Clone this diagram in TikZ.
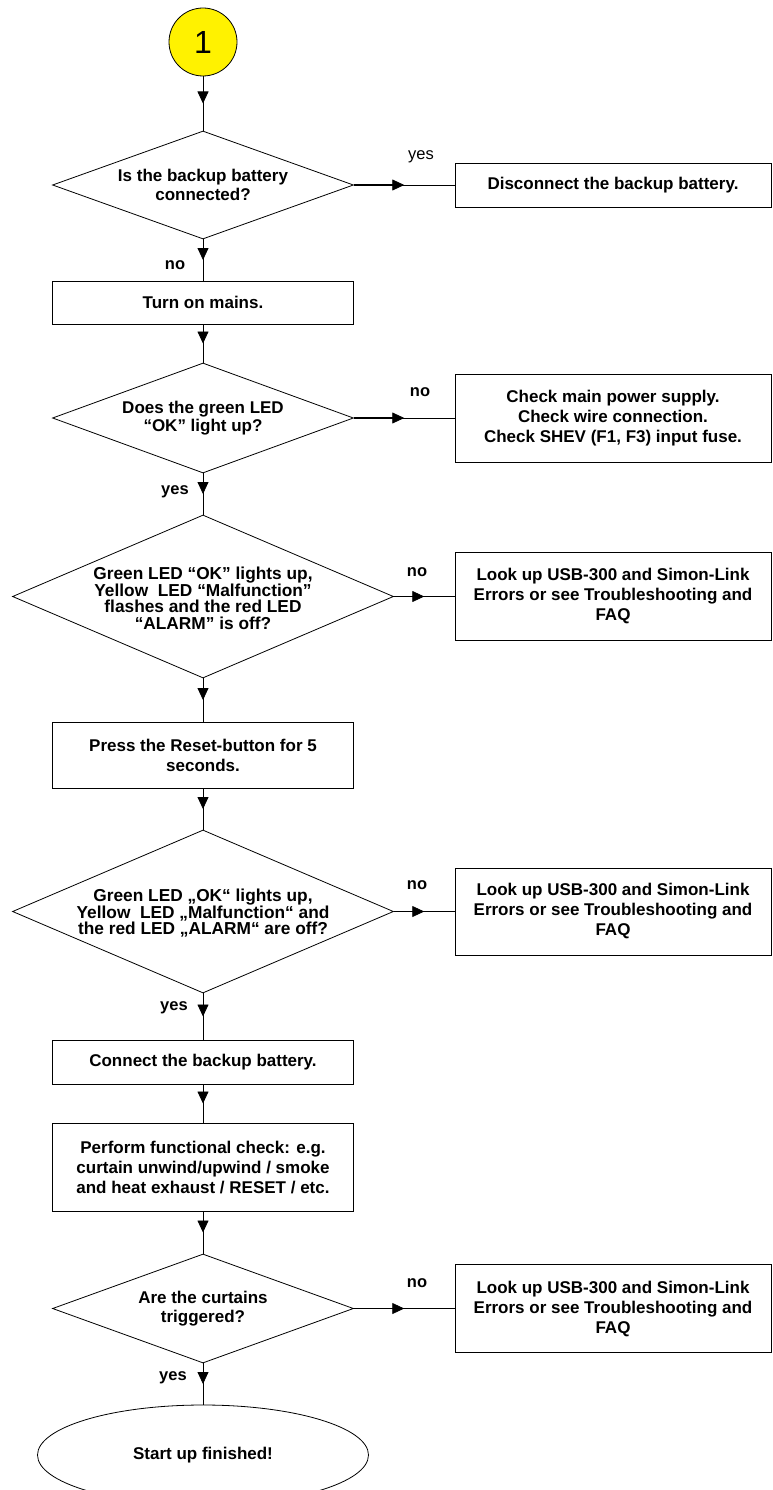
\documentclass[tikz,border=0pt]{standalone}
\usepackage{fontspec}
\setmainfont{Liberation Sans}
\usetikzlibrary{shapes.geometric,arrows.meta,decorations.markings}
\begin{document}
\begin{tikzpicture}[x=1pt,y=-1pt,
  every node/.style={font=\fontsize{17}{20}\selectfont\bfseries, align=center},
  box/.style={draw, line width=0.8pt, rectangle, inner sep=0pt},
  lbox/.style={box, minimum width=301pt},
  rbox/.style={box, minimum width=316pt},
  dia/.style={draw, line width=0.8pt, diamond, inner sep=0pt},
  dtext/.style={font=\fontsize{17}{18.5}\selectfont\bfseries, align=center},
  dtextt/.style={font=\fontsize{17.3}{16.5}\selectfont\bfseries, align=center, yshift=-2pt},
  conn/.style={line width=0.8pt, postaction={decorate},
    decoration={markings, mark=at position 0.5 with {\arrow{Triangle[length=12pt,width=11pt]}}}},
  hconn/.style={line width=0.8pt, postaction={decorate},
    decoration={markings,
      mark=at position 0 with {\draw[line width=1.7pt] (0pt,0pt) -- ({0.5*\pgfdecoratedpathlength-11pt},0pt);},
      mark=at position 0.5 with {\arrow{Triangle[length=12pt,width=11pt]}}}},
  lbl/.style={font=\fontsize{16.5}{18}\selectfont\bfseries},
  lblr/.style={font=\fontsize{16.5}{18}\selectfont}
]
\useasboundingbox (0,0) rectangle (773,1490);

% start
\node[circle, draw, line width=0.8pt, fill=yellow, minimum size=68pt, inner sep=0pt,
  font=\fontsize{32}{36}\selectfont] (c1) at (203,42) {1};

% left column
\node[dia, minimum width=301pt, minimum height=108pt,
  label={[dtext]center:Is the backup battery\\connected?}] (d1) at (203,185) {};
\node[lbox, minimum height=43pt] (b1) at (203,302.5) {Turn on mains.};
\node[dia, minimum width=301pt, minimum height=110pt,
  label={[dtext]center:Does the green LED\\“OK” light up?}] (d2) at (203,418) {};
\node[dia, minimum width=381pt, minimum height=163pt,
  label={[dtextt]center:Green LED “OK” lights up,\\Yellow~ LED “Malfunction”\\flashes and the red LED\\“ALARM” is off?}] (d3) at (203,596.5) {};
\node[lbox, minimum height=66pt] (b2) at (203,755) {Press the Reset-button for 5\\seconds.};
\node[dia, minimum width=381pt, minimum height=163pt,
  label={[dtextt]center:Green LED „OK“ lights up,\\Yellow~ LED „Malfunction“ and\\the red LED „ALARM“ are off?}] (d4) at (203,911.5) {};
\node[lbox, minimum height=44pt] (b3) at (203,1062) {Connect the backup battery.};
\node[lbox, minimum height=88pt] (b4) at (203,1167) {Perform functional check: e.g.\\curtain unwind/upwind / smoke\\and heat exhaust / RESET / etc.};
\node[dia, minimum width=301pt, minimum height=109pt,
  label={[dtext]center:Are the curtains\\triggered?}] (d5) at (203,1308.5) {};
\node[ellipse, draw, line width=0.8pt, minimum width=331pt, minimum height=100pt, inner sep=0pt] (e1) at (203,1455) {\raisebox{-4pt}{Start up finished!}};

% right column
\node[rbox, minimum height=44pt] (r1) at (613,185) {Disconnect the backup battery.};
\node[rbox, minimum height=88pt] (r2) at (613,418) {Check main power supply.\\Check wire connection.\\Check SHEV (F1, F3) input fuse.};
\node[rbox, minimum height=88pt] (r3) at (613,596.5) {Look up USB-300 and Simon-Link\\Errors or see Troubleshooting and\\FAQ};
\node[rbox, minimum height=87pt] (r4) at (613,911.5) {Look up USB-300 and Simon-Link\\Errors or see Troubleshooting and\\FAQ};
\node[rbox, minimum height=88pt] (r5) at (613,1308.5) {Look up USB-300 and Simon-Link\\Errors or see Troubleshooting and\\FAQ};

% labels
\node[lblr] (l1) at (421,157) {yes};
\node[lbl] (l2) at (175,265) {no};
\node[lbl] (l3) at (420,392) {no};
\node[lbl] (l4) at (175,492) {yes};
\node[lbl] (l5) at (417,572) {no};
\node[lbl] (l6) at (417,885) {no};
\node[lbl] (l7) at (174,1008) {yes};
\node[lbl] (l8) at (417,1283) {no};
\node[lbl] (l9) at (173,1378) {yes};

% connectors
\draw[conn] (c1.south) -- (d1.north);
\draw[hconn] (d1.east) -- (r1.west);
\draw[conn] (d1.south) -- (b1.north);
\draw[conn] (b1.south) -- (d2.north);
\draw[hconn] (d2.east) -- (r2.west);
\draw[conn] (d2.south) -- (d3.north);
\draw[hconn] (d3.east) -- (r3.west);
\draw[conn] (d3.south) -- (b2.north);
\draw[conn] (b2.south) -- (d4.north);
\draw[hconn] (d4.east) -- (r4.west);
\draw[conn] (d4.south) -- (b3.north);
\draw[conn] (b3.south) -- (b4.north);
\draw[conn] (b4.south) -- (d5.north);
\draw[hconn] (d5.east) -- (r5.west);
\draw[conn] (d5.south) -- (e1.north);
\end{tikzpicture}
\end{document}
